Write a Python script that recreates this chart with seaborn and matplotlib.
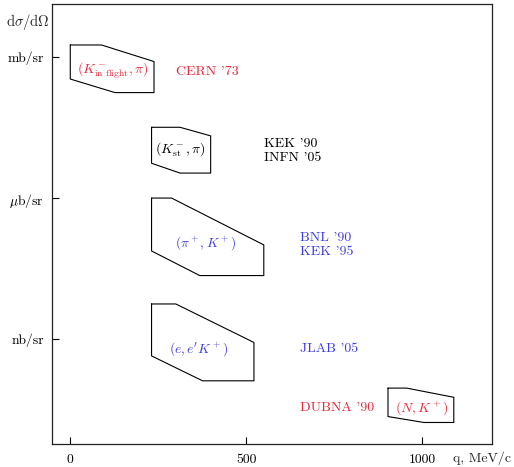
import numpy as np
import pandas as pd
import matplotlib
matplotlib.use("Agg")
import matplotlib.pyplot as plt
import seaborn as sns

# cross section in nb/sr, q in MeV/c
cern_q = [0, 89, 238, 238, 127, 0]
cern_s = [1.8e6, 1.8e6, 8.0e5, 1.75e5, 1.75e5, 3.4e5]
kek_q = [231, 312, 399, 399, 312, 231]
kek_s = [3.2e4, 3.2e4, 2.1e4, 3.4e3, 3.4e3, 5.5e3]
bnl_q = [231, 288, 550, 550, 368, 231]
bnl_s = [1000, 1000, 101, 22.5, 22.5, 75]
jlab_q = [231, 300, 522, 522, 376, 231]
jlab_s = [5.6, 5.6, 0.85, 0.13, 0.13, 0.44]
dubna_q = [903, 956, 1090, 1090, 1005, 903]
dubna_s = [0.091, 0.091, 0.058, 0.0169, 0.0169, 0.0226]

box_names = ["cern", "kek", "bnl", "jlab", "dubna"]
box_q = [cern_q, kek_q, bnl_q, jlab_q, dubna_q]
box_s = [cern_s, kek_s, bnl_s, jlab_s, dubna_s]

reactions = [r"$(K^-_{\rm in\ flight},\pi)$", r"$(K^-_{\rm st},\pi)$",
             r"$(\pi^+,K^+)$", r"$(e,e'K^+)$", r"$(N,K^+)$"]
labs = ["CERN '73", "KEK '90\nINFN '05", "BNL '90\nKEK '95", "JLAB '05", "DUBNA '90"]

ytick_vals = [1e6, 1e3, 1]
ytick_labels = ["mb/sr", r"$\mu$b/sr", "nb/sr"]
xtick_vals = [0, 500, 1000]

RED = "#e8283c"
BLUE = "#3c3ce6"
colors = [RED, "black", BLUE, BLUE, RED]

sns.set_theme(style="ticks")
plt.rcParams["font.family"] = ["cmr10", "DejaVu Serif"]
plt.rcParams["mathtext.fontset"] = "cm"
plt.rcParams["axes.formatter.use_mathtext"] = True

rows = []
for name, qs, ss in zip(box_names, box_q, box_s):
    # close the polygon
    for i, (q, s) in enumerate(list(zip(qs, ss)) + [(qs[0], ss[0])]):
        rows.append({"box": name, "order": i, "q": q, "s": s})
df = pd.DataFrame(rows)

fig = plt.figure(figsize=(5.14, 4.67), dpi=100)
ax = fig.add_axes([0.1018, 0.0493, 0.855, 0.9415])

sns.lineplot(data=df, x="q", y="s", units="box", estimator=None, sort=False,
             color="black", lw=0.8, ax=ax, legend=False)

ax.set_yscale("log")
ax.set_xlim(-51, 1198)
ax.set_ylim(0.0059, 1.32e7)
ax.yaxis.set_minor_locator(matplotlib.ticker.NullLocator())
ax.set_yticks(ytick_vals)
ax.set_yticklabels(ytick_labels)
ax.set_xticks(xtick_vals)
ax.set_xticklabels([str(v) for v in xtick_vals])
ax.tick_params(direction="in", length=5, width=0.8, labelsize=9.8, colors="black")
ax.tick_params(axis="x", pad=7)
ax.tick_params(axis="y", pad=6)
ax.set_xlabel("")
ax.set_ylabel("")
for sp in ax.spines.values():
    sp.set_visible(True)
    sp.set_linewidth(0.9)
    sp.set_color("#222222")

# reaction labels inside boxes
react_pos = [(121, 5.0e5), (314, 1.05e4), (385, 111), (365, 0.62), (999, 0.035)]
react_size = [10, 10, 9.6, 9.8, 10]
for txt, (x, y), c, fs in zip(reactions, react_pos, colors, react_size):
    ax.text(x, y, txt, color=c, fontsize=fs, ha="center", va="center")

lab_pos = [(300, 4.8e5), (550, 1.0e4), (652, 100), (652, 0.62), (652, 0.035)]
for txt, (x, y), c in zip(labs, lab_pos, colors):
    ax.text(x, y, txt, color=c, fontsize=10, ha="left", va="center", linespacing=1.25)

fig.text(28 / 514, 1 - 22 / 467, r"d$\sigma$/d$\Omega$", fontsize=10.5, ha="center", va="center")
fig.text(482 / 514, 1 - 458 / 467, "q, MeV/c", fontsize=10, ha="center", va="center")

fig.savefig("out.png", dpi=100)
